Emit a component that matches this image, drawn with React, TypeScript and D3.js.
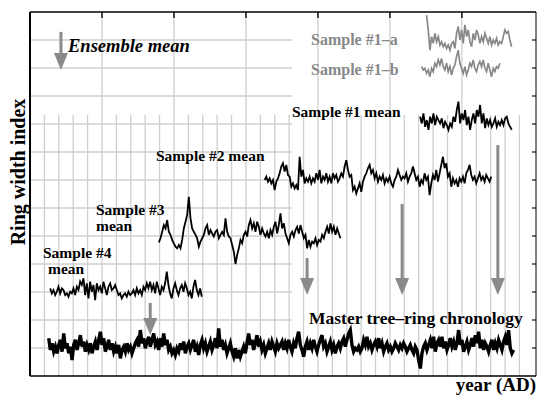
import React from 'react'
import * as d3 from 'd3'

// years between successive readings taken off the figure
const step = 2.315

const sample1aStart = 1851
const sample1a = [12.89, 12.36, 11.64, 12.12, 11.88, 12.24, 11.94, 12.12, 11.82, 11.94, 11.76, 11.88, 11.70, 11.82, 11.64, 11.88, 11.94, 11.70, 12.24, 12.48, 12.00, 12.36, 11.88, 12.54, 12.12, 12.36, 11.94, 11.76, 12.24, 12.00, 12.36, 12.18, 11.88, 12.12, 11.94, 12.24, 12.06, 11.88, 12.12, 11.82, 12.00, 11.88, 12.06, 11.82, 11.94, 11.88, 12.12, 12.36, 12.24, 12.30, 12.00, 11.76]

const sample1bStart = 1844
const sample1b = [11.05, 10.93, 10.99, 10.81, 10.93, 10.69, 10.99, 10.87, 11.17, 11.05, 11.29, 11.11, 11.34, 11.05, 10.93, 11.17, 10.87, 11.05, 10.75, 10.99, 11.11, 11.40, 11.64, 11.17, 10.99, 10.81, 11.05, 10.75, 10.93, 11.17, 11.05, 11.29, 10.99, 10.87, 11.11, 11.23, 11.05, 11.29, 10.99, 10.87, 11.17, 10.93, 10.69, 10.99, 10.87, 11.05, 10.99, 11.17]

const sample1Start = 1842
const sample1 = [9.26, 9.02, 9.38, 8.90, 9.14, 8.79, 9.26, 9.02, 9.38, 8.96, 9.26, 9.14, 9.02, 9.20, 8.85, 9.08, 8.96, 8.79, 9.02, 8.90, 9.26, 9.08, 9.50, 9.80, 9.02, 9.38, 9.14, 9.50, 8.96, 9.26, 8.79, 9.14, 9.38, 9.02, 9.50, 9.26, 9.68, 9.02, 9.38, 8.85, 9.20, 8.96, 9.14, 8.90, 9.02, 9.20, 8.90, 9.08, 8.96, 9.14, 8.96, 9.20, 9.26, 9.02, 8.90, 8.79]

const sample2Start = 1626
const sample2 = [7.00, 7.12, 6.94, 7.06, 6.88, 7.00, 6.64, 6.94, 7.06, 7.24, 7.48, 7.60, 7.30, 7.54, 7.18, 7.12, 6.76, 6.88, 6.70, 6.82, 6.64, 7.83, 7.12, 7.36, 6.88, 7.06, 6.94, 7.12, 6.88, 7.06, 6.94, 7.24, 7.00, 7.36, 6.88, 7.12, 7.00, 7.24, 6.94, 7.12, 6.88, 7.24, 7.06, 7.18, 6.94, 7.06, 7.24, 7.12, 7.48, 7.71, 7.36, 7.12, 7.18, 6.64, 6.76, 6.52, 6.70, 6.88, 6.58, 6.94, 7.12, 7.24, 7.42, 7.54, 7.24, 7.36, 7.06, 7.24, 6.94, 7.12, 7.00, 7.18, 6.88, 7.06, 6.94, 7.12, 6.88, 6.76, 7.00, 7.12, 7.36, 7.18, 7.00, 7.12, 7.06, 7.24, 6.94, 7.12, 7.24, 7.48, 7.24, 7.00, 7.12, 6.76, 7.00, 6.88, 7.24, 7.00, 7.12, 6.46, 6.88, 7.18, 7.00, 7.36, 6.94, 7.24, 7.54, 7.83, 7.42, 7.60, 7.12, 7.24, 6.76, 7.06, 6.88, 7.00, 6.76, 7.06, 6.94, 7.12, 6.88, 7.24, 7.36, 7.54, 7.18, 7.00, 7.12, 6.88, 7.06, 7.24, 7.00, 7.12, 6.94, 7.18, 7.06, 6.94, 7.12]

const sample3Start = 1479
const sample3 = [4.77, 4.92, 5.15, 5.39, 5.27, 5.57, 5.15, 5.04, 4.86, 4.74, 4.62, 4.56, 4.68, 4.56, 4.86, 5.27, 5.51, 5.75, 6.40, 5.63, 5.27, 5.15, 5.04, 4.92, 4.62, 4.80, 4.92, 5.04, 5.27, 5.39, 5.04, 5.21, 5.09, 4.98, 5.15, 5.21, 4.92, 5.04, 5.15, 5.04, 5.63, 5.15, 4.98, 4.92, 4.68, 4.44, 4.00, 4.32, 4.56, 4.86, 4.74, 5.04, 5.15, 4.98, 5.39, 5.57, 5.27, 5.45, 5.15, 5.51, 5.33, 5.04, 5.27, 5.09, 4.98, 5.15, 4.92, 5.21, 5.04, 5.33, 5.51, 5.09, 5.39, 5.81, 5.27, 5.45, 5.09, 4.92, 4.74, 5.04, 5.15, 4.98, 5.21, 5.33, 5.09, 5.39, 5.15, 4.92, 5.04, 4.56, 4.86, 4.62, 4.80, 4.74, 4.92, 4.68, 4.86, 4.80, 5.04, 4.92, 5.15, 5.33, 5.09, 5.45, 5.15, 5.33, 5.04, 5.27, 5.09, 4.92]

const sample4Start = 1328
const sample4 = [3.13, 2.95, 3.07, 2.89, 3.01, 3.19, 2.95, 3.13, 3.07, 2.89, 2.95, 2.83, 3.01, 2.95, 3.13, 2.89, 3.19, 3.07, 3.37, 3.25, 3.49, 2.89, 3.31, 2.77, 3.37, 3.01, 3.25, 2.71, 3.31, 3.07, 3.19, 2.95, 3.37, 3.13, 2.89, 3.19, 3.31, 3.07, 3.13, 3.25, 3.07, 2.89, 2.95, 2.77, 2.89, 2.95, 2.83, 3.01, 2.89, 2.95, 3.07, 2.89, 3.13, 2.95, 3.07, 2.89, 3.19, 3.07, 3.31, 3.13, 3.37, 3.07, 3.25, 2.95, 3.37, 3.13, 2.89, 3.19, 3.07, 3.31, 3.73, 3.25, 2.95, 2.77, 3.13, 3.31, 3.07, 2.89, 3.13, 3.25, 3.01, 3.31, 3.13, 2.89, 3.01, 2.77, 3.19, 3.43, 3.07, 2.89, 3.13, 2.83]

const masterStart = 1326
const master = [
  1.35, 0.93, 1.17, 0.87, 1.05, 0.81, 1.11, 1.29, 0.87, 1.52, 0.99, 1.17, 0.81, 1.05, 0.57, 1.11, 1.29, 0.93, 1.17, 1.46, 1.05, 1.23, 0.87, 1.11, 0.93, 1.17, 0.81, 1.05, 1.23, 0.93, 1.29, 1.58, 1.11, 1.35, 0.87, 1.05, 1.29, 0.93, 1.17, 0.87, 1.05, 0.81, 1.11, 0.63, 0.93, 1.05, 0.87, 1.17, 0.93, 1.05, 0.81, 0.99, 1.17, 1.29, 1.05, 1.64, 1.17, 1.35, 0.99, 1.23, 1.40, 1.05, 1.29, 1.52, 1.11, 1.23, 0.93, 1.35, 1.05, 1.52, 1.11, 1.29, 0.93, 1.05, 0.81, 0.93, 0.75, 0.99, 0.87, 1.17, 0.93, 1.23, 0.81, 1.05, 1.17, 0.93, 1.11, 1.29, 0.87, 1.05, 0.75, 1.11, 1.29, 0.99, 1.17, 0.87, 1.05, 1.23, 0.93, 1.11, 1.35, 0.99, 1.70, 1.05, 1.29, 0.93, 1.11, 0.81, 0.99, 1.17, 0.87, 0.69, 0.99, 0.63, 0.93, 0.69, 0.87, 1.05, 0.81, 1.17, 1.52, 1.11, 1.29, 0.93, 1.17, 1.46, 1.05, 1.23, 0.93, 1.11, 0.81, 0.99, 1.17, 0.93, 1.23, 1.05, 0.87, 1.17, 0.99,
  1.11, 1.23, 0.93, 1.17, 0.99, 1.29, 1.05, 0.87, 1.17, 0.99, 1.35, 1.58, 1.11, 0.93, 0.69, 1.05, 1.23, 0.93, 1.17, 0.99, 1.29, 1.05, 0.87, 1.11, 1.29, 1.46, 1.05, 1.17, 0.87, 1.05, 1.23, 0.93, 1.11, 0.81, 1.05, 1.17, 0.99, 1.23, 1.35, 1.05, 1.29, 1.52, 1.64, 1.11, 0.87, 0.99, 0.93, 1.05, 0.87, 0.99, 1.29, 1.11, 1.40, 1.05, 1.17, 0.93, 1.11, 1.23, 1.05, 1.35, 0.99, 1.17, 0.87, 1.05, 1.17, 0.93, 1.05, 0.87, 0.99, 1.17, 1.05, 0.93, 1.11, 0.99, 1.17, 1.05, 0.87, 0.99, 1.11, 0.93, 0.81, 1.05, 0.93, 0.57, 0.27, 0.81, 1.05, 1.17, 0.93, 1.11, 1.29, 0.99, 1.40, 0.87, 1.17, 1.29, 1.05, 1.40, 0.99, 1.23, 0.93, 1.11, 1.35, 1.05, 1.23, 0.93, 1.17, 1.64, 1.11, 1.29, 0.87, 1.05, 1.23, 0.93, 1.11, 1.35, 1.05, 1.46, 1.17, 1.58, 0.99, 1.29, 0.93, 1.17, 1.05, 0.87, 1.11, 1.29, 0.93, 1.17, 0.99, 1.29, 1.11, 0.93, 1.23, 1.40, 1.11, 1.64, 0.99, 0.81, 0.93,
]

// arrows: year, start index, tip index
const arrowYears = [1343, 1685, 1817, 1950, 1467]
const arrowFrom = [12.29, 4.21, 6.14, 8.25, 2.61]
const arrowTo = [10.93, 2.89, 2.89, 2.89, 1.46]

const W = 537
const H = 397
const x = d3.scaleLinear().domain([1300, 2003]).range([30, 536])
const y = d3.scaleLinear().domain([0, 13]).range([376, 12])

const fineYears = d3.range(1320, 2000, 20)
const majorYears = d3.range(1400, 2000, 100)
const levels = d3.range(1, 13)

function path(start: number, values: number[]) {
  const line = d3.line<number>()
    .x((_, i) => x(start + i * step))
    .y(d => y(d))
  return line(values) || ''
}

const serif = '"Liberation Serif", "Times New Roman", serif'
const GRID = '#cfcfcf'
const ARROW = '#8a8a8a'

function Arrow({ year, from, to }: { year: number; from: number; to: number }) {
  const cx = x(year)
  const y1 = y(from)
  const y2 = y(to)
  return (
    <g fill={ARROW}>
      <rect x={cx - 1.5} y={y1} width={3} height={y2 - y1 - 15} />
      <path d={`M${cx - 7},${y2 - 17}L${cx + 7},${y2 - 17}L${cx},${y2}Z`} />
    </g>
  )
}

export default function App() {
  return (
    <svg width={W} height={H} style={{ position: 'absolute', left: 0, top: 0, background: '#fff' }}>
      {/* grid */}
      {levels.map(l => (
        <line key={'h' + l} x1={x(1300)} x2={x(1664)} y1={y(l)} y2={y(l)} stroke={GRID} strokeWidth={1.3} />
      ))}
      {fineYears.filter(yr => yr % 100 !== 0).map(yr => (
        <line key={'f' + yr} x1={x(yr)} x2={x(yr)} y1={y(9.32)} y2={y(0)} stroke={GRID} strokeWidth={1.3} />
      ))}
      {majorYears.map(yr => (
        <line key={'m' + yr} x1={x(yr)} x2={x(yr)} y1={y(13)} y2={y(0)} stroke={GRID} strokeWidth={1.3} />
      ))}

      {/* frame + ticks */}
      {majorYears.map(yr => (
        <line key={'t' + yr} x1={x(yr)} x2={x(yr)} y1={y(13)} y2={y(13) + 6} stroke="#222" strokeWidth={1.6} />
      ))}
      {levels.map(l => (
        <line key={'r' + l} x1={x(2003) - 4} x2={x(2003)} y1={y(l)} y2={y(l)} stroke="#222" strokeWidth={1.3} />
      ))}
      <line x1={x(1300)} x2={x(2003)} y1={y(13)} y2={y(13)} stroke="#000" strokeWidth={1.5} />
      <line x1={x(1300)} x2={x(2003)} y1={y(0)} y2={y(0)} stroke="#000" strokeWidth={1.5} />
      <line x1={x(1300)} x2={x(1300)} y1={y(13)} y2={y(0)} stroke="#000" strokeWidth={2} />
      <line x1={x(2003)} x2={x(2003)} y1={y(13)} y2={y(0)} stroke="#000" strokeWidth={1} />

      {/* arrows */}
      {arrowYears.map((yr, i) => (
        <Arrow key={'a' + i} year={yr} from={arrowFrom[i]} to={arrowTo[i]} />
      ))}

      {/* series */}
      <g fill="none" strokeLinejoin="miter">
        <path d={path(sample1aStart, sample1a)} stroke="#888" strokeWidth={1.7} />
        <path d={path(sample1bStart, sample1b)} stroke="#888" strokeWidth={1.7} />
        <path d={path(sample1Start, sample1)} stroke="#000" strokeWidth={1.8} />
        <path d={path(sample2Start, sample2)} stroke="#000" strokeWidth={1.8} />
        <path d={path(sample3Start, sample3)} stroke="#000" strokeWidth={1.8} />
        <path d={path(sample4Start, sample4)} stroke="#000" strokeWidth={1.8} />
        <path d={path(masterStart, master)} stroke="#000" strokeWidth={3.4} />
      </g>

      {/* labels */}
      <g fontFamily={serif} fontWeight="bold">
        <text x={68} y={52} fontSize={18.5} fontStyle="italic">Ensemble mean</text>
        <text x={311} y={45} fontSize={16} fill="#888">Sample #1–a</text>
        <text x={311} y={75} fontSize={16} fill="#888">Sample #1–b</text>
        <text x={292} y={117} fontSize={15.5}>Sample #1 mean</text>
        <text x={156} y={161} fontSize={15.5}>Sample #2 mean</text>
        <text x={96} y={215} fontSize={15.5}>Sample #3</text>
        <text x={96} y={231} fontSize={15.5}>mean</text>
        <text x={43} y={258} fontSize={15.5}>Sample #4</text>
        <text x={48} y={274} fontSize={15.5}>mean</text>
        <text x={309} y={324} fontSize={17.5}>Master tree–ring chronology</text>
        <text x={536} y={391} fontSize={19} textAnchor="end">year (AD)</text>
        <text transform="translate(25,172) rotate(-90)" fontSize={20} textAnchor="middle">Ring width index</text>
      </g>
    </svg>
  )
}
